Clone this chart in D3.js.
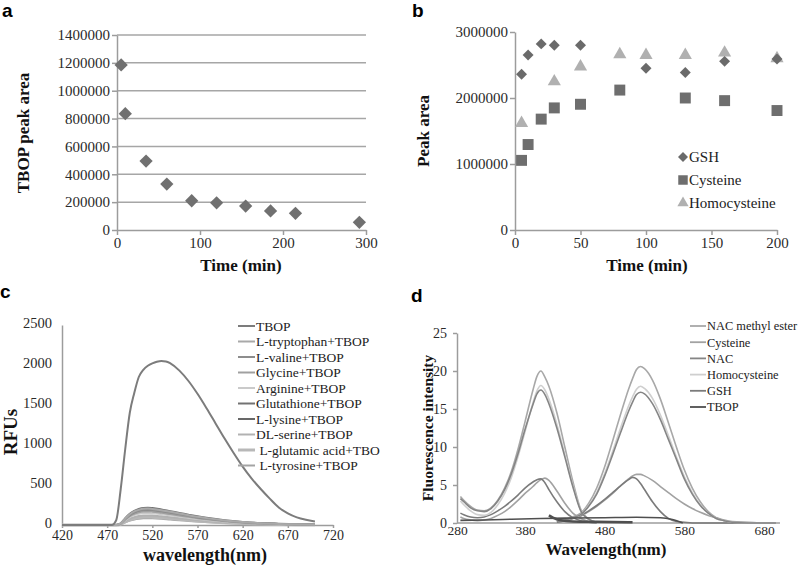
<!DOCTYPE html>
<html>
<head>
<meta charset="utf-8">
<script src="https://cdnjs.cloudflare.com/ajax/libs/d3/7.8.5/d3.min.js"></script>
<style>
  body { margin: 0; background: #fff; }
  .lab { font-weight: bold; font-size: 19px; }
  .ttl { font-weight: bold; font-size: 17px; fill: #111; }
  .leg { font-size: 13.5px; fill: #222; }
</style>
</head>
<body>
<script>
// ---- panel a : TBOP peak area vs time
var aTime = [5, 10, 35, 60, 90, 120, 155, 185, 215, 292];
var aArea = [1185000, 835000, 495000, 330000, 210000, 195000, 172000, 137000, 120000, 55000];
var aYTicks = [0, 200000, 400000, 600000, 800000, 1000000, 1200000, 1400000];
var aXTicks = [0, 100, 200, 300];

// ---- panel b : peak area vs time for three thiols
var bGshTime = [5, 10, 20, 30, 50, 100, 130, 160, 200];
var bGsh     = [2360000, 2650000, 2820000, 2800000, 2800000, 2450000, 2385000, 2555000, 2590000];
var bCysTime = [5, 10, 20, 30, 50, 80, 130, 160, 200];
var bCys     = [1055000, 1295000, 1680000, 1850000, 1905000, 2120000, 2000000, 1960000, 1810000];
var bHcyTime = [5, 30, 50, 80, 100, 130, 160, 200];
var bHcy     = [1620000, 2250000, 2475000, 2660000, 2650000, 2650000, 2685000, 2600000];
var bYTicks = [0, 1000000, 2000000, 3000000];
var bXTicks = [0, 50, 100, 150, 200];

// ---- panel c : RFU spectra
var cWave = [420, 440, 460, 475, 480, 485, 490, 495, 500, 505, 510, 515, 520, 525, 530, 535, 540, 550, 560, 570, 580, 590, 600, 610, 620, 630, 640, 650, 660, 670, 680, 690, 700];
var cTbop = [0, 0, 0, 0, 60, 450, 950, 1400, 1650, 1850, 1940, 1990, 2020, 2040, 2050, 2045, 2020, 1930, 1800, 1640, 1460, 1270, 1080, 900, 730, 580, 450, 330, 220, 145, 95, 65, 45];
var cSmallWave = [420, 470, 480, 485, 490, 495, 500, 505, 510, 515, 520, 530, 540, 550, 560, 570, 580, 600, 620, 640, 660, 680, 700];
var cTryptophan = [0, 0, 0, 20, 80, 135, 170, 190, 203, 205, 200, 185, 165, 145, 123, 103, 86, 57, 37, 23, 14, 8, 4];
var cValine     = [0, 0, 0, 19, 76, 124, 156, 177, 188, 190, 186, 171, 152, 133, 114, 95, 80, 53, 34, 21, 13, 8, 4];
var cGlycine    = [0, 0, 0, 17, 68, 110, 139, 158, 168, 170, 167, 153, 136, 119, 102, 85, 71, 48, 31, 19, 12, 7, 3];
var cArginine   = [0, 0, 0, 15, 60, 98, 123, 140, 149, 150, 147, 135, 120, 105, 90, 75, 63, 42, 27, 17, 11, 6, 3];
var cGlutathione= [0, 0, 0, 22, 86, 140, 176, 200, 213, 215, 211, 194, 172, 151, 129, 108, 90, 60, 39, 24, 15, 9, 4];
var cLysine     = [0, 0, 0, 18, 72, 117, 148, 167, 178, 180, 176, 162, 144, 126, 108, 90, 76, 50, 32, 20, 13, 7, 4];
var cSerine     = [0, 0, 0, 12, 48, 78, 98, 112, 119, 120, 118, 108, 96, 84, 72, 60, 50, 34, 22, 13, 8, 5, 2];
var cGlutamic   = [0, 0, 0, 10, 40, 65, 82, 93, 99, 100, 98, 90, 80, 70, 60, 50, 42, 28, 18, 11, 7, 4, 2];
var cTyrosine   = [0, 0, 0, 9, 34, 55, 70, 79, 84, 85, 83, 77, 68, 60, 51, 43, 36, 24, 15, 9, 6, 3, 2];
var cNames = ["TBOP", "L-tryptophan+TBOP", "L-valine+TBOP", "Glycine+TBOP", "Arginine+TBOP", "Glutathione+TBOP", "L-lysine+TBOP", "DL-serine+TBOP", " L-glutamic acid+TBO", " L-tyrosine+TBOP"];
var cYTicks = [0, 500, 1000, 1500, 2000, 2500];
var cXTicks = [420, 470, 520, 570, 620, 670, 720];

// ---- panel d : excitation / emission spectra
var dExWave = [285, 290, 300, 310, 320, 330, 340, 350, 360, 370, 380, 390, 395, 400, 405, 410, 420, 430, 440, 450, 460, 470];
var dEmWave = [420, 430, 440, 450, 460, 470, 480, 490, 500, 510, 515, 520, 525, 530, 540, 550, 560, 570, 580, 590, 600, 610, 620, 630, 640, 660, 680, 695];
var dExNacMe = [3.5, 3.0, 2.2, 1.7, 1.6, 2.0, 3.0, 4.6, 6.8, 9.8, 13.3, 17.5, 19.3, 20.0, 19.2, 18.0, 14.5, 10.0, 5.5, 1.8, 0.5, 0.1];
var dEmNacMe = [0.3, 0.5, 0.8, 1.3, 2.6, 4.6, 7.4, 10.8, 14.3, 17.6, 19.0, 20.2, 20.6, 20.3, 18.8, 16.3, 13.2, 10.0, 7.0, 4.6, 2.8, 1.5, 0.7, 0.3, 0.1, 0, 0, 0];
var dExHcy = [2.9, 2.4, 1.6, 1.1, 1.0, 1.4, 2.4, 3.9, 6.0, 8.8, 12.0, 15.8, 17.4, 18.1, 17.5, 16.3, 13.0, 9.0, 5.0, 1.7, 0.5, 0.1];
var dEmHcy = [0.3, 0.4, 0.7, 1.1, 2.3, 4.0, 6.5, 9.4, 12.5, 15.4, 16.6, 17.6, 18.0, 17.7, 16.4, 14.2, 11.5, 8.7, 6.1, 4.0, 2.4, 1.3, 0.6, 0.3, 0.1, 0, 0, 0];
var dExGsh = [3.2, 2.8, 2.0, 1.6, 1.5, 1.9, 2.9, 4.4, 6.5, 9.2, 12.3, 15.6, 17.0, 17.5, 16.9, 15.7, 12.5, 8.7, 4.8, 1.6, 0.5, 0.1];
var dEmGsh = [0.2, 0.4, 0.7, 1.1, 2.2, 3.8, 6.2, 9.0, 11.9, 14.7, 15.9, 16.9, 17.2, 17.0, 15.7, 13.6, 11.0, 8.4, 5.8, 3.8, 2.3, 1.3, 0.6, 0.3, 0.1, 0, 0, 0];
var dExCys = [0.8, 0.6, 0.4, 0.3, 0.4, 0.6, 1.0, 1.5, 2.2, 3.0, 3.9, 4.8, 5.3, 5.7, 5.9, 5.6, 4.2, 2.6, 1.3, 0.6, 0.2, 0];
var dEmCys = [0.1, 0.3, 0.6, 0.9, 1.5, 2.2, 3.0, 3.9, 4.9, 5.8, 6.2, 6.4, 6.4, 6.2, 5.6, 4.8, 4.0, 3.2, 2.5, 1.9, 1.4, 1.0, 0.7, 0.4, 0.2, 0.1, 0, 0];
var dExNac = [1.3, 1.1, 0.8, 0.7, 0.8, 1.1, 1.6, 2.2, 2.9, 3.7, 4.6, 5.4, 5.7, 5.8, 5.3, 4.4, 2.8, 1.5, 0.7, 0.3, 0.1, 0];
var dEmNac = [0.1, 0.3, 0.6, 1.0, 1.6, 2.3, 3.1, 4.0, 4.9, 5.7, 6.0, 5.8, 5.2, 4.4, 2.8, 1.5, 0.6, 0.2, 0.1, 0, 0, 0, 0, 0, 0, 0, 0, 0];
var dTbopExWave = [285, 320, 360, 400, 440, 480, 520, 550, 565, 578];
var dTbopEx = [0.35, 0.4, 0.5, 0.6, 0.65, 0.7, 0.75, 0.7, 0.45, 0];
var dTbopEmWave = [410, 415, 425, 440, 470, 515];
var dTbopEm = [1.0, 0.7, 0.35, 0.2, 0.15, 0.1];
var dNames = ["NAC methyl ester", "Cysteine", "NAC", "Homocysteine", "GSH", "TBOP"];
var dYTicks = [0, 5, 10, 15, 20, 25];
var dXTicks = [280, 380, 480, 580, 680];

var serif = '"Liberation Serif", "Times New Roman", serif';
var sans = '"Liberation Sans", Arial, sans-serif';

var svg = d3.select("body").append("svg")
    .attr("width", 800)
    .attr("height", 565);

function styleAxis(g, size) {
  g.select(".domain").attr("stroke", "#9c9c9c").attr("stroke-width", 1.5);
  g.selectAll(".tick line").attr("stroke", "#9c9c9c").attr("stroke-width", 1.5);
  g.selectAll(".tick text").attr("fill", "#2a2a2a")
    .style("font-family", serif).style("font-size", (size || 15) + "px");
}

function zip(xs, ys) { return xs.map(function (x, i) { return [x, ys[i]]; }); }

var diamond = d3.symbol().type(d3.symbolSquare).size(88);
var square = d3.symbol().type(d3.symbolSquare).size(120);
var triangle = d3.symbol().type(d3.symbolTriangle).size(75);

//=================================== a
var ax = d3.scaleLinear().domain([0, 300]).range([117, 366]);
var ay = d3.scaleLinear().domain([0, 1400000]).range([230, 35]);

svg.append("g").selectAll("line")
  .data(aYTicks.slice(1))
  .join("line")
    .attr("x1", ax(0)).attr("x2", ax(300))
    .attr("y1", function (d) { return ay(d); })
    .attr("y2", function (d) { return ay(d); })
    .attr("stroke", "#a6a6a6")
    .attr("stroke-width", 1.5);

svg.append("g")
    .attr("transform", "translate(0," + ay(0) + ")")
    .call(d3.axisBottom(ax).tickValues(aXTicks).tickSize(5).tickSizeOuter(0).tickPadding(2))
    .call(styleAxis);
svg.append("g")
    .attr("transform", "translate(" + ax(0) + ",0)")
    .call(d3.axisLeft(ay).tickValues(aYTicks).tickSize(5).tickSizeOuter(0).tickPadding(2).tickFormat(d3.format("d")))
    .call(styleAxis);

svg.append("g").selectAll("path")
  .data(zip(aTime, aArea))
  .join("path")
    .attr("d", diamond)
    .attr("transform", function (d) { return "translate(" + ax(d[0]) + "," + ay(d[1]) + ") rotate(45)"; })
    .attr("fill", "#707070");

svg.append("text").attr("class", "ttl").attr("x", 241).attr("y", 271).attr("text-anchor", "middle").text("Time (min)");
svg.append("text").attr("class", "ttl").attr("text-anchor", "middle")
    .attr("transform", "translate(29,133) rotate(-90)").text("TBOP peak area");
svg.append("text").attr("class", "lab").attr("x", 2).attr("y", 17).text("a");

//=================================== b
var bx = d3.scaleLinear().domain([0, 200]).range([515, 777]);
var by = d3.scaleLinear().domain([0, 3000000]).range([230, 32]);

svg.append("g")
    .attr("transform", "translate(0," + by(0) + ")")
    .call(d3.axisBottom(bx).tickValues(bXTicks).tickSize(5).tickSizeOuter(0).tickPadding(2))
    .call(styleAxis);
svg.append("g")
    .attr("transform", "translate(" + bx(0) + ",0)")
    .call(d3.axisLeft(by).tickValues(bYTicks).tickSize(5).tickSizeOuter(0).tickPadding(2).tickFormat(d3.format("d")))
    .call(styleAxis);

svg.append("g").selectAll("path")
  .data(zip(bHcyTime, bHcy))
  .join("path")
    .attr("d", triangle)
    .attr("transform", function (d) { return "translate(" + bx(d[0]) + "," + by(d[1]) + ")"; })
    .attr("fill", "#b0b0b0");
svg.append("g").selectAll("path")
  .data(zip(bCysTime, bCys))
  .join("path")
    .attr("d", square)
    .attr("transform", function (d) { return "translate(" + bx(d[0]) + "," + by(d[1]) + ")"; })
    .attr("fill", "#6e6e6e");
svg.append("g").selectAll("path")
  .data(zip(bGshTime, bGsh))
  .join("path")
    .attr("d", d3.symbol().type(d3.symbolSquare).size(60))
    .attr("transform", function (d) { return "translate(" + bx(d[0]) + "," + by(d[1]) + ") rotate(45)"; })
    .attr("fill", "#6a6a6a");

var bLeg = [["GSH", "#6a6a6a", d3.symbol().type(d3.symbolSquare).size(50), 45],
            ["Cysteine", "#6e6e6e", d3.symbol().type(d3.symbolSquare).size(90), 0],
            ["Homocysteine", "#b0b0b0", d3.symbol().type(d3.symbolTriangle).size(55), 0]];
var bl = svg.append("g").selectAll("g").data(bLeg).join("g")
    .attr("transform", function (d, i) { return "translate(683," + (157 + i * 23) + ")"; });
bl.append("path").attr("d", function (d) { return d[2](); })
    .attr("transform", function (d) { return "rotate(" + d[3] + ")"; })
    .attr("fill", function (d) { return d[1]; });
bl.append("text").attr("x", 6).attr("dy", "0.35em").style("font-size", "15px").attr("fill", "#222")
    .text(function (d) { return d[0]; });

svg.append("text").attr("class", "ttl").attr("x", 647).attr("y", 271).attr("text-anchor", "middle").text("Time (min)");
svg.append("text").attr("class", "ttl").attr("text-anchor", "middle")
    .attr("transform", "translate(429,131) rotate(-90)").text("Peak area");
svg.append("text").attr("class", "lab").attr("x", 412).attr("y", 17).text("b");

//=================================== c
var cx = d3.scaleLinear().domain([420, 720]).range([62, 333]);
var cy = d3.scaleLinear().domain([0, 2500]).range([525, 325]);

svg.append("g")
    .attr("transform", "translate(0," + cy(0) + ")")
    .call(d3.axisBottom(cx).tickValues(cXTicks).tickSize(3).tickSizeOuter(0).tickPadding(2))
    .call(styleAxis, 14);
svg.append("g")
    .attr("transform", "translate(" + cx(420) + ",0)")
    .call(d3.axisLeft(cy).tickValues(cYTicks).tickSize(0).tickPadding(10).tickFormat(d3.format("d")))
    .call(styleAxis, 14.5)
    .selectAll(".tick text").attr("dy", "0.2em");

var cSeries = [
  [cWave, cTbop, "#7c7c7c", 2],
  [cSmallWave, cTryptophan, "#a9a9a9", 2],
  [cSmallWave, cValine, "#8d8d8d", 2],
  [cSmallWave, cGlycine, "#a0a0a0", 2],
  [cSmallWave, cArginine, "#cacaca", 2],
  [cSmallWave, cGlutathione, "#727272", 2],
  [cSmallWave, cLysine, "#686868", 2],
  [cSmallWave, cSerine, "#b2b2b2", 2],
  [cSmallWave, cGlutamic, "#b8b8b8", 3],
  [cSmallWave, cTyrosine, "#a4a4a4", 2]
];
var cLine = d3.line().curve(d3.curveMonotoneX)
    .x(function (d) { return cx(d[0]); })
    .y(function (d) { return cy(d[1]); });
svg.append("g").selectAll("path")
  .data(cSeries.slice().reverse())
  .join("path")
    .attr("d", function (s) { return cLine(zip(s[0], s[1])); })
    .attr("fill", "none")
    .attr("stroke", function (s) { return s[2]; })
    .attr("stroke-width", function (s) { return s[3]; });

var cl = svg.append("g").selectAll("g").data(cNames).join("g")
    .attr("transform", function (d, i) { return "translate(238," + (326 + i * 15.5) + ")"; });
cl.append("line").attr("x1", 0).attr("x2", 17)
    .attr("stroke", function (d, i) { return cSeries[i][2]; })
    .attr("stroke-width", function (d, i) { return cSeries[i][3]; });
cl.append("text").attr("class", "leg").attr("x", 18).attr("dy", "0.35em")
    .style("white-space", "pre").text(function (d) { return d; });

svg.append("text").attr("class", "ttl").style("font-size", "18px").attr("x", 205).attr("y", 561).attr("text-anchor", "middle").text("wavelength(nm)");
svg.append("text").attr("class", "ttl").style("font-size", "19px").attr("text-anchor", "middle")
    .attr("transform", "translate(17,432) rotate(-90)").text("RFUs");
svg.append("text").attr("class", "lab").attr("x", 0).attr("y", 298).text("c");

//=================================== d
var dx = d3.scaleLinear().domain([280, 380, 680]).range([457, 525, 764]);
var dy = d3.scaleLinear().domain([0, 25]).range([523, 333]);

svg.append("g")
    .attr("transform", "translate(0," + dy(0) + ")")
    .call(d3.axisBottom(dx).tickValues(dXTicks).tickSize(0).tickPadding(2))
    .call(styleAxis, 13.5)
    .select(".domain").attr("d", "M457,0H780");
svg.append("g")
    .attr("transform", "translate(" + dx(280) + ",0)")
    .call(d3.axisLeft(dy).tickValues(dYTicks).tickSize(4).tickSizeOuter(0).tickPadding(6))
    .call(styleAxis, 14);

var dColors = ["#a8a8a8", "#a2a2a2", "#858585", "#cfcfcf", "#7b7b7b", "#4f4f4f"];
var dSeries = [
  [dExWave, dExNacMe, 0], [dEmWave, dEmNacMe, 0],
  [dExWave, dExCys, 1], [dEmWave, dEmCys, 1],
  [dExWave, dExNac, 4], [dEmWave, dEmNac, 4],
  [dExWave, dExHcy, 3], [dEmWave, dEmHcy, 3],
  [dExWave, dExGsh, 2], [dEmWave, dEmGsh, 2],
  [dTbopExWave, dTbopEx, 5], [dTbopEmWave, dTbopEm, 5]
];
var dLine = d3.line().curve(d3.curveMonotoneX)
    .x(function (d) { return dx(d[0]); })
    .y(function (d) { return dy(d[1]); });
svg.append("g").selectAll("path")
  .data(dSeries)
  .join("path")
    .attr("d", function (s) { return dLine(zip(s[0], s[1])); })
    .attr("fill", "none")
    .attr("stroke", function (s) { return dColors[s[2]]; })
    .attr("stroke-width", function (s, i) { return i === 11 ? 2.5 : 1.6; });

var dl = svg.append("g").selectAll("g").data(dNames).join("g")
    .attr("transform", function (d, i) { return "translate(690," + (326 + i * 16.2) + ")"; });
dl.append("line").attr("x1", 0).attr("x2", 16)
    .attr("stroke", function (d, i) { return dColors[i]; })
    .attr("stroke-width", 1.8);
dl.append("text").attr("class", "leg").style("font-size", "12.4px").attr("x", 17).attr("dy", "0.35em")
    .text(function (d) { return d; });

svg.append("text").attr("class", "ttl").attr("x", 606).attr("y", 555).attr("text-anchor", "middle").text("Wavelength(nm)");
svg.append("text").attr("class", "ttl").style("font-size", "15.5px").attr("text-anchor", "middle")
    .attr("transform", "translate(433,428) rotate(-90)").text("Fluorescence intensity");
svg.append("text").attr("class", "lab").attr("x", 411).attr("y", 302).text("d");

// serif everywhere except the panel letters
svg.selectAll("text").style("font-family", serif);
svg.selectAll(".lab").style("font-family", sans);
</script>
</body>
</html>
